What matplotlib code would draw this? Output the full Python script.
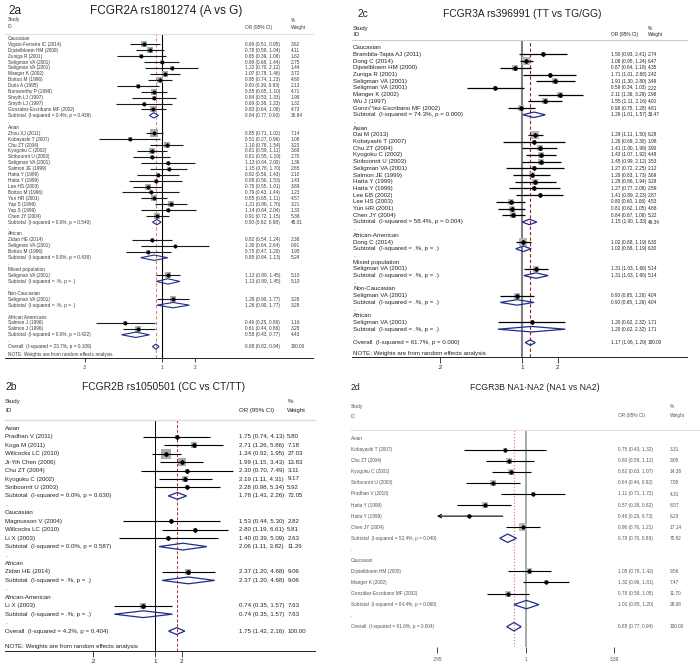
import numpy as np
import matplotlib
matplotlib.use('Agg')
import matplotlib.pyplot as plt
from matplotlib.patches import Polygon
from matplotlib.ticker import NullLocator
from matplotlib.transforms import blended_transform_factory

plt.rcParams['font.family'] = ['Liberation Sans', 'DejaVu Sans']

# ---------------- 2a: FCGR2A rs1801274 ----------------
a_groups = ['Caucasian', 'Asian', 'African', 'Mixed population', 'Non-Caucasian', 'African Americans']
a_n = [12, 15, 3, 1, 1, 2]
a_study = ['Vigato-Ferreira IC (2014)', 'Dijstelbloem HM (2000)', 'Zuniga R (2001)', 'Seligman VA (2001)',
           'Seligman VA (2001)', 'Manger K (2002)', 'Bottoo M (1996)', 'Duits A (1995)',
           'Norsworthy P (1999)', 'Smyth LJ (1997)', 'Smyth LJ (1997)', 'Gonzalez-Escribano MF (2002)',
           'Zhou XJ (2011)', 'Kobayashi T (2007)', 'Chu ZT (2004)', 'Kyogoku C (2002)', 'Siriboonrit U (2003)',
           'Seligman VA (2001)', 'Salmon JE (1999)', 'Hatta Y (1999)', 'Hatta Y (1999)', 'Lee HS (2003)',
           'Bottoo M (1996)', 'Yun HR (2001)', 'Yap S (1999)', 'Yap S (1999)', 'Chen JY (2004)',
           'Zidan HE (2014)', 'Seligman VA (2001)', 'Bottoo M (1996)',
           'Seligman VA (2001)', 'Seligman VA (2001)',
           'Salmon J (1996)', 'Salmon J (1996)']
a_or = [0.69, 0.78, 0.65, 0.99, 1.22, 1.07, 0.95, 0.60, 0.85, 0.84, 0.69, 0.83,
        0.85, 0.51, 1.10, 0.81, 0.81, 1.13, 1.15, 0.92, 0.88, 0.75, 0.79, 0.85, 1.21, 1.14, 0.91,
        0.82, 1.30, 0.75, 1.13, 1.26, 0.46, 0.61]
a_lo = [0.51, 0.58, 0.39, 0.68, 0.70, 0.78, 0.74, 0.39, 0.65, 0.53, 0.38, 0.64,
        0.71, 0.27, 0.78, 0.59, 0.55, 0.64, 0.78, 0.59, 0.50, 0.55, 0.43, 0.65, 0.86, 0.64, 0.72,
        0.54, 0.64, 0.47, 0.89, 0.90, 0.25, 0.44]
a_hi = [0.95, 1.04, 1.08, 1.44, 2.12, 1.46, 1.23, 0.93, 1.10, 1.33, 1.23, 1.08,
        1.02, 0.96, 1.54, 1.11, 1.19, 2.00, 1.70, 1.43, 1.53, 1.01, 1.44, 1.11, 1.70, 2.04, 1.15,
        1.24, 2.64, 1.20, 1.45, 1.77, 0.86, 0.86]
a_wt = [3.62, 4.11, 1.62, 2.75, 1.44, 3.72, 4.80, 2.13, 4.71, 1.98, 1.32, 4.73,
        7.14, 1.08, 3.23, 3.68, 2.70, 1.36, 2.65, 2.10, 1.43, 3.89, 1.23, 4.57, 3.21, 1.33, 5.38,
        2.38, 0.91, 1.95, 5.10, 3.28, 1.16, 3.28]
a_sub_or = [0.84, 0.90, 0.85, 1.13, 1.26, 0.58]
a_sub_lo = [0.77, 0.82, 0.64, 0.89, 0.90, 0.43]
a_sub_hi = [0.93, 0.98, 1.13, 1.45, 1.77, 0.77]
a_sub_wt = [36.84, 45.01, 5.24, 5.10, 3.28, 4.43]
a_sub_i2 = ['0.4%', '0.0%', '0.0%', '.%', '.%', '0.0%']
a_sub_p = ['0.439', '0.540', '0.438', '.', '.', '0.422']
a_overall = [0.88, 0.82, 0.94]
a_ov_i2, a_ov_p = '23.7%', '0.109'
a_ticks = [0.2, 1, 2]
a_ticklabels = ['.2', '1', '2']

# ---------------- 2c: FCGR3A rs396991 ----------------
c_groups = ['Caucasian', 'Asian', 'African-American', 'Mixed population', 'Non-Caucasian', 'African']
c_n = [9, 13, 1, 1, 1, 1]
c_study = ['Brambila-Tapia AJ (2011)', 'Dong C (2014)', 'Dijstelbloem HM (2000)', 'Zuniga R (2001)',
           'Seligman VA (2001)', 'Seligman VA (2001)', 'Manger K (2002)', 'Wu J (1997)',
           'Gonz\u221a\u00b0lez-Escribano MF (2002)',
           'Dai M (2013)', 'Kobayashi T (2007)', 'Chu ZT (2004)', 'Kyogoku C (2002)', 'Siriboonrit U (2003)',
           'Seligman VA (2001)', 'Salmon JE (1999)', 'Hatta Y (1999)', 'Hatta Y (1999)', 'Lee EB (2002)',
           'Lee HS (2003)', 'Yun HR (2001)', 'Chen JY (2004)',
           'Dong C (2014)', 'Seligman VA (2001)', 'Seligman VA (2001)', 'Seligman VA (2001)']
c_or = [1.50, 1.08, 0.87, 1.71, 1.91, 0.59, 2.11, 1.55, 0.98,
        1.29, 1.26, 1.41, 1.43, 1.45, 1.27, 1.20, 1.29, 1.27, 1.41, 0.80, 0.81, 0.84,
        1.02, 1.31, 0.90, 1.20]
c_lo = [0.93, 0.95, 0.64, 1.01, 1.30, 0.34, 1.36, 1.11, 0.75,
        1.11, 0.69, 1.00, 1.07, 0.99, 0.72, 0.83, 0.86, 0.77, 0.89, 0.60, 0.62, 0.67,
        0.88, 1.03, 0.65, 0.62]
c_hi = [2.41, 1.24, 1.18, 2.88, 2.80, 1.03, 3.29, 2.16, 1.28,
        1.50, 2.30, 1.99, 1.92, 2.12, 2.25, 1.73, 1.94, 2.08, 2.23, 1.06, 1.05, 1.06,
        1.19, 1.66, 1.26, 2.32]
c_wt = [2.74, 6.47, 4.35, 2.42, 3.49, 2.22, 2.98, 4.00, 4.81,
        6.28, 1.98, 3.90, 4.48, 3.53, 2.12, 3.69, 3.29, 2.59, 2.87, 4.53, 4.88, 5.22,
        6.30, 5.14, 4.04, 1.71]
c_sub_or = [1.26, 1.15, 1.02, 1.31, 0.90, 1.20]
c_sub_lo = [1.01, 1.00, 0.88, 1.03, 0.65, 0.62]
c_sub_hi = [1.57, 1.33, 1.19, 1.66, 1.26, 2.32]
c_sub_wt = [33.47, 49.34, 6.30, 5.14, 4.04, 1.71]
c_sub_i2 = ['74.3%', '58.4%', '.%', '.%', '.%', '.%']
c_sub_p = ['0.000', '0.004', '.', '.', '.', '.']
c_overall = [1.17, 1.06, 1.29]
c_ov_i2, c_ov_p = '61.7%', '0.000'
c_ticks = [0.2, 1, 2]
c_ticklabels = ['.2', '1', '2']

# ---------------- 2b: FCGR2B rs1050501 ----------------
b_groups = ['Asian', 'Caucasian', 'African', 'African-American']
b_n = [7, 3, 1, 1]
b_study = ['Pradhan V (2011)', 'Koga M (2011)', 'Willcocks LC (2010)', 'Ji-Yih Chen (2006)',
           'Chu ZT (2004)', 'Kyogoku C (2002)', 'Siriboonrit U (2003)',
           'Magnusson V (2004)', 'Willcocks LC (2010)', 'Li X (2003)',
           'Zidan HE (2014)', 'Li X (2003)']
b_or = [1.75, 2.71, 1.34, 1.99, 2.30, 2.19, 2.28, 1.53, 2.80, 1.40, 2.37, 0.74]
b_lo = [0.74, 1.26, 0.92, 1.15, 0.70, 1.11, 0.98, 0.44, 1.19, 0.39, 1.20, 0.35]
b_hi = [4.13, 5.86, 1.95, 3.43, 7.49, 4.31, 5.34, 5.30, 6.61, 5.09, 4.68, 1.57]
b_wt = [5.80, 7.18, 27.03, 13.83, 3.11, 9.17, 5.92, 2.82, 5.81, 2.63, 9.06, 7.63]
b_sub_or = [1.78, 2.06, 2.37, 0.74]
b_sub_lo = [1.41, 1.11, 1.20, 0.35]
b_sub_hi = [2.26, 3.82, 4.68, 1.57]
b_sub_wt = [72.05, 11.26, 9.06, 7.63]
b_sub_i2 = ['0.0%', '0.0%', '.%', '.%']
b_sub_p = ['0.630', '0.587', '.', '.']
b_overall = [1.75, 1.42, 2.16]
b_ov_i2, b_ov_p = '4.2%', '0.404'
b_ticks = [0.2, 1, 2]
b_ticklabels = ['.2', '1', '2']

# ---------------- 2d: FCGR3B NA1-NA2 ----------------
d_groups = ['Asian', 'Caucasian']
d_n = [8, 3]
d_study = ['Kobayashi T (2007)', 'Chu ZT (2004)', 'Kyogoku C (2002)', 'Siriboonrit U (2003)',
           'Pradhan V (2010)', 'Hatta Y (1999)', 'Hatta Y (1999)', 'Chen JY (2004)',
           'Dijstelbloem HM (2000)', 'Manger K (2002)', 'González-Escribano MF (2002)']
d_or = [0.75, 0.80, 0.82, 0.64, 1.11, 0.57, 0.46, 0.96, 1.05, 1.32, 0.78]
d_lo = [0.43, 0.58, 0.63, 0.44, 0.71, 0.39, 0.29, 0.76, 0.78, 0.96, 0.59]
d_hi = [1.32, 1.12, 1.07, 0.92, 1.72, 0.82, 0.73, 1.21, 1.42, 1.81, 1.05]
d_wt = [3.31, 9.05, 14.38, 7.95, 4.31, 8.57, 6.23, 17.14, 9.56, 7.47, 11.70]
d_sub_or = [0.78, 1.01]
d_sub_lo = [0.70, 0.85]
d_sub_hi = [0.88, 1.20]
d_sub_wt = [70.92, 29.08]
d_sub_i2 = ['52.4%', '64.4%']
d_sub_p = ['0.040', '0.060']
d_overall = [0.85, 0.77, 0.94]
d_ov_i2, d_ov_p = '61.6%', '0.004'
d_ticks = [0.295, 1, 3.39]
d_ticklabels = ['.295', '1', '3.39']

W, H = 700, 664
fig = plt.figure(figsize=(7, 6.64), dpi=100)
NAVY = '#1f2d8c'


def fx(px):
    return px / W


def fy(py):
    return 1 - py / H


def ortext(o, l, h):
    return f'{o:.2f} ({l:.2f}, {h:.2f})'


def panel(tag, title, groups, n, study, orr, lo, hi, wt,
          sub_or, sub_lo, sub_hi, sub_wt, sub_i2, sub_p,
          overall, ov_i2, ov_p, ticks, ticklabels, lay):
    L, R, T, B = lay['box']
    ax = fig.add_axes([fx(L), fy(B), (R - L) / W, (B - T) / H])
    ax.set_xscale('log')
    one, ppl = lay['one'], lay['ppl']
    ax.set_xlim(np.exp((L - one) / ppl), np.exp((R - one) / ppl))
    r0, sp = lay['r0'], lay['sp']
    ax.set_ylim((B - r0) / sp, (T - r0) / sp)
    tr = blended_transform_factory(fig.transFigure, ax.transData)
    fs, nfs, tc = lay['fs'], lay['nfs'], lay['tc']
    xl, xo, xw = fx(lay['cols'][0]), fx(lay['cols'][1]), fx(lay['cols'][2])

    def txt(x, y, s, size=None):
        ax.text(x, y, s, transform=tr, fontsize=size or fs, color=tc, ha='left', va='center')

    ax.axvline(1, color=lay['one_c'], lw=lay['one_lw'], zorder=1)
    ax.axvline(overall[0], color=lay['ov_c'], lw=lay['ov_lw'], dashes=lay['ov_dash'], zorder=1)

    dh = lay['dh']

    def diamond(y, o, l, h):
        ax.add_patch(Polygon([(l, y), (o, y - dh), (h, y), (o, y + dh)], closed=True,
                             fill=False, ec=NAVY, lw=lay['dlw'], zorder=4))

    row = 0
    i = 0
    for g, k in enumerate(n):
        txt(xl, row, groups[g])
        row += 1
        for _ in range(k):
            if lay.get('clip') and lo[i] < ticks[0]:
                ax.annotate('', xy=(ticks[0], row), xytext=(hi[i], row),
                            arrowprops=dict(arrowstyle='->', lw=lay['ci_lw'], color='black',
                                            shrinkA=0, shrinkB=0, mutation_scale=6))
            else:
                ax.plot([lo[i], hi[i]], [row, row], color=lay['ci_c'], lw=lay['ci_lw'], zorder=3,
                        solid_capstyle='butt')
            side = lay['sq'] * np.sqrt(wt[i]) * 0.72
            ax.scatter([orr[i]], [row], s=side ** 2, marker='s', color=lay['sq_c'],
                       linewidths=0, zorder=2)
            ax.plot([orr[i]], [row], marker='D', ms=lay['pt'], color='black', zorder=5)
            txt(xl, row, study[i])
            txt(xo, row, ortext(orr[i], lo[i], hi[i]), nfs)
            txt(xw, row, f'{wt[i]:.2f}', nfs)
            row += 1
            i += 1
        diamond(row, sub_or[g], sub_lo[g], sub_hi[g])
        txt(xl, row, f'Subtotal  (I-squared = {sub_i2[g]}, p = {sub_p[g]})')
        txt(xo, row, ortext(sub_or[g], sub_lo[g], sub_hi[g]), nfs)
        txt(xw, row, f'{sub_wt[g]:.2f}', nfs)
        row += 1
        txt(xl, row, '.')
        row += 1
    diamond(row, *overall)
    txt(xl, row, f'Overall  (I-squared = {ov_i2}, p = {ov_p})')
    txt(xo, row, ortext(*overall), nfs)
    txt(xw, row, '100.00', nfs)

    if lay.get('note') is not None:
        fig.text(xl, fy(lay['note']), 'NOTE: Weights are from random effects analysis',
                 fontsize=fs, color=tc, ha='left', va='center')

    # header rows
    sy, iy = lay['head']
    fig.text(xl, fy(sy), 'Study', fontsize=fs, color=tc, va='center')
    fig.text(xl, fy(iy), 'ID', fontsize=fs, color=tc, va='center')
    fig.text(xo, fy(iy), 'OR (95% CI)', fontsize=nfs, color=tc, va='center')
    fig.text(xw, fy(sy), '%', fontsize=nfs, color=tc, va='center')
    fig.text(xw, fy(iy), 'Weight', fontsize=nfs, color=tc, va='center')

    tx, ty, tcx, tfs = lay['title']
    fig.text(fx(tx), fy(ty), tag, fontsize=tfs, color='#222222', va='center')
    fig.text(fx(tcx), fy(ty), title, fontsize=tfs, color='#222222', va='center', ha='center')

    for s in ['left', 'right']:
        ax.spines[s].set_visible(False)
    ax.spines['top'].set_color(lay['sep_c'])
    ax.spines['top'].set_linewidth(lay['sep_lw'])
    if lay.get('axis_line', True):
        ax.spines['bottom'].set_color('#222222')
        ax.spines['bottom'].set_linewidth(0.7)
    else:
        ax.spines['bottom'].set_visible(False)
    ax.set_yticks([])
    ax.set_xticks(ticks)
    ax.set_xticklabels(ticklabels)
    ax.xaxis.set_minor_locator(NullLocator())
    ax.tick_params(axis='x', length=lay['tick_len'], width=0.6, pad=lay['tick_pad'],
                   labelsize=lay['tick_fs'], colors='#222222', labelcolor=tc)
    ax.patch.set_alpha(0)
    return ax


lay_a = dict(box=(5, 313, 33.5, 357.7), one=162, ppl=47.9, r0=38.3, sp=5.93,
             cols=(8, 245, 291), fs=3.4, nfs=3.4, tc='#3a3a3a', head=(20, 27), note=354.3,
             title=(8, 11, 166.5, 8.5), one_c='black', one_lw=0.8, ov_c='#d48a8a', ov_lw=0.8,
             ov_dash=(3, 2), dh=0.45, dlw=0.8, ci_c='#1a1a1a', ci_lw=0.8, sq=2.9, sq_c='#ababab',
             pt=1.6, sep_c='#dddddd', sep_lw=0.8, tick_len=3, tick_pad=2, tick_fs=3.5)
lay_c = dict(box=(352, 687, 40, 356.7), one=522.3, ppl=51, r0=47.8, sp=6.7,
             cols=(353, 611, 648), fs=4.4, nfs=3.4, tc='#222222', head=(28.3, 34.3), note=353.3,
             title=(358, 14, 522, 7.4), one_c='#808080', one_lw=1.5, ov_c='#a02020', ov_lw=0.8,
             ov_dash=(3, 2), dh=0.41, dlw=0.9, ci_c='black', ci_lw=0.9, sq=2.9, sq_c='#b8b8b8',
             pt=2.0, sep_c='#cccccc', sep_lw=0.8, tick_len=4, tick_pad=2, tick_fs=4.5)
lay_b = dict(box=(5, 315, 420, 651), one=155, ppl=38.7, r0=428.3, sp=8.45,
             cols=(5, 239.3, 287.3), fs=4.4, nfs=4.4, tc='#222222', head=(401.7, 410.7), note=646.7,
             title=(5, 387, 163.5, 7.4), one_c='black', one_lw=0.7, ov_c='#a03030', ov_lw=0.7,
             ov_dash=(3, 2), dh=0.4, dlw=0.9, ci_c='black', ci_lw=0.8, sq=2.0, sq_c='#acacac',
             pt=2.0, sep_c='#dddddd', sep_lw=1.0, tick_len=4, tick_pad=2, tick_fs=4.5)
lay_d = dict(box=(351, 699, 430, 647), one=525.7, ppl=72.7, r0=438.7, sp=11.06,
             cols=(351, 618, 670), fs=3.4, nfs=3.4, tc='#555555', head=(406, 416), note=None,
             title=(351, 387, 535, 6.2), one_c='#9a9a9a', one_lw=1.2, ov_c='#e08a8a', ov_lw=0.9,
             ov_dash=(1, 1.5), dh=0.38, dlw=0.9, ci_c='black', ci_lw=0.8, sq=1.8, sq_c='#bcbcbc',
             pt=1.8, sep_c='#f0dcd4', sep_lw=0.8, tick_len=4, tick_pad=3, tick_fs=3.5,
             axis_line=False, clip=True)

panel('2a', 'FCGR2A rs1801274 (A vs G)', a_groups, a_n, a_study, a_or, a_lo, a_hi, a_wt,
      a_sub_or, a_sub_lo, a_sub_hi, a_sub_wt, a_sub_i2, a_sub_p,
      a_overall, a_ov_i2, a_ov_p, a_ticks, a_ticklabels, lay_a)
panel('2c', 'FCGR3A rs396991 (TT vs TG/GG)', c_groups, c_n, c_study, c_or, c_lo, c_hi, c_wt,
      c_sub_or, c_sub_lo, c_sub_hi, c_sub_wt, c_sub_i2, c_sub_p,
      c_overall, c_ov_i2, c_ov_p, c_ticks, c_ticklabels, lay_c)
panel('2b', 'FCGR2B rs1050501 (CC vs CT/TT)', b_groups, b_n, b_study, b_or, b_lo, b_hi, b_wt,
      b_sub_or, b_sub_lo, b_sub_hi, b_sub_wt, b_sub_i2, b_sub_p,
      b_overall, b_ov_i2, b_ov_p, b_ticks, b_ticklabels, lay_b)
panel('2d', 'FCGR3B NA1\u00b7NA2 (NA1 vs NA2)', d_groups, d_n, d_study, d_or, d_lo, d_hi, d_wt,
      d_sub_or, d_sub_lo, d_sub_hi, d_sub_wt, d_sub_i2, d_sub_p,
      d_overall, d_ov_i2, d_ov_p, d_ticks, d_ticklabels, lay_d)

fig.savefig('out.png', dpi=100)
